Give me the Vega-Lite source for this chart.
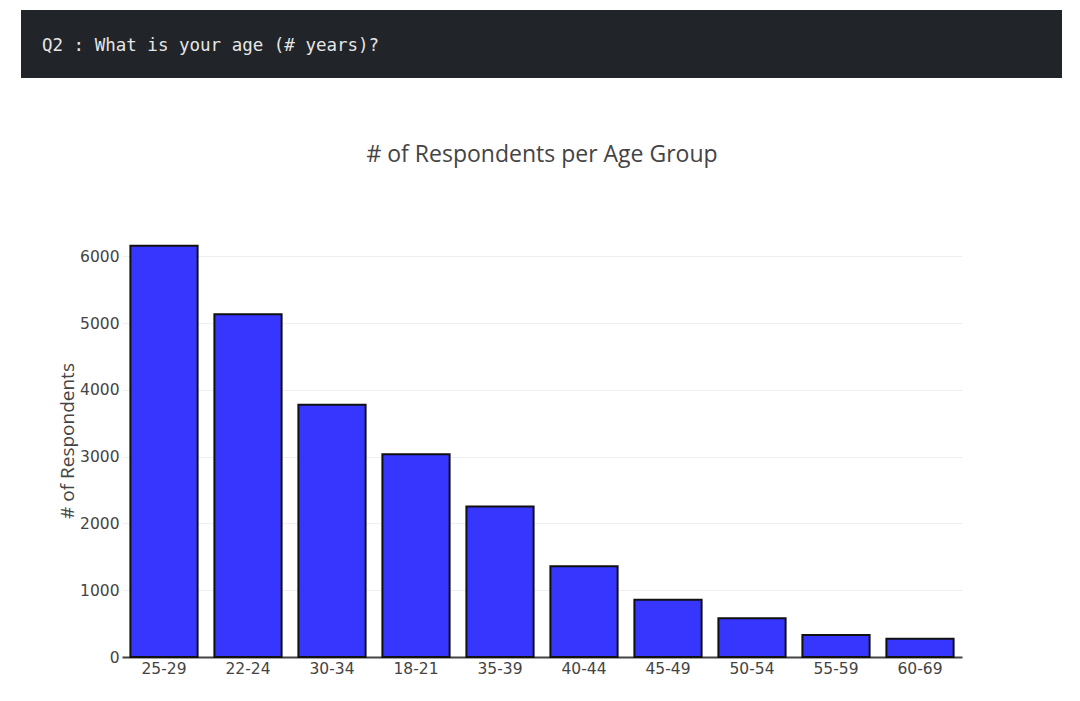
{
  "$schema": "https://vega.github.io/schema/vega-lite/v6.json",
  "autosize": {"type": "pad"},
  "padding": {"left": 21, "top": 10, "right": 0, "bottom": 0},
  "background": "white",
  "config": {"view": {"stroke": null}},
  "spacing": 66,
  "vconcat": [
    {
      "width": 1041,
      "height": 68,
      "view": {"fill": "#212428", "stroke": null},
      "data": {"values": [{"label": "Q2 : What is your age (# years)?"}]},
      "mark": {"type": "text", "align": "left", "baseline": "middle", "font": "DejaVu Sans Mono", "fontSize": 17.5, "color": "#e6e6e6", "dx": 21, "dy": 2},
      "encoding": {
        "text": {"field": "label", "type": "nominal"},
        "x": {"datum": 0, "type": "quantitative", "scale": {"domain": [0, 1]}, "axis": null}
      }
    },
    {
      "spacing": 0,
      "hconcat": [
        {
          "width": 37,
          "height": 1,
          "data": {"values": []},
          "mark": "text",
          "encoding": {}
        },
        {
          "width": 840,
          "height": 433,
          "title": {"text": "# of Respondents per Age Group", "font": "Open Sans", "fontSize": 23, "fontWeight": "normal", "color": "#444444", "offset": 57, "anchor": "middle", "frame": "group"},
          "data": {"values": [
            {"age": "25-29", "respondents": 6159},
            {"age": "22-24", "respondents": 5133},
            {"age": "30-34", "respondents": 3776},
            {"age": "18-21", "respondents": 3037},
            {"age": "35-39", "respondents": 2253},
            {"age": "40-44", "respondents": 1360},
            {"age": "45-49", "respondents": 858},
            {"age": "50-54", "respondents": 582},
            {"age": "55-59", "respondents": 328},
            {"age": "60-69", "respondents": 273}
          ]},
          "mark": {"type": "bar", "fill": "#3636ff", "stroke": "#111111", "strokeWidth": 2},
          "encoding": {
            "x": {
              "field": "age", "type": "nominal", "sort": null,
              "scale": {"paddingInner": 0.2, "paddingOuter": 0.1},
              "axis": {"title": null, "labelAngle": 0, "labelFont": "DejaVu Sans", "labelFontSize": 15.5, "labelColor": "#444444", "labelPadding": 4, "ticks": false, "domainColor": "#444444", "domainWidth": 2, "grid": false}
            },
            "y": {
              "field": "respondents", "type": "quantitative",
              "scale": {"domain": [0, 6483], "nice": false},
              "axis": {"title": "# of Respondents", "titleFont": "Open Sans", "titleFontSize": 19, "titleFontWeight": "normal", "titleColor": "#444444", "titlePadding": 2, "values": [0, 1000, 2000, 3000, 4000, 5000, 6000], "format": "d", "labelFont": "DejaVu Sans", "labelFontSize": 15.5, "labelColor": "#444444", "labelPadding": 3, "ticks": false, "domain": false, "gridColor": "#eeeeee", "gridWidth": 1}
            }
          }
        }
      ]
    }
  ]
}
